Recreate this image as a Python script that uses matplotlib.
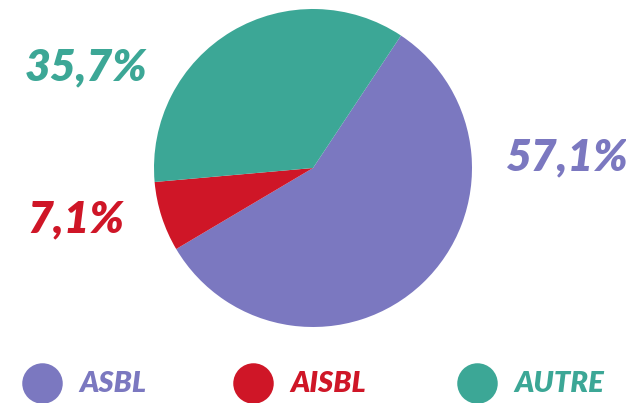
import matplotlib
matplotlib.use("Agg")
import matplotlib.pyplot as plt

categories = ["ASBL", "AISBL", "AUTRE"]
values = [57.1, 7.1, 35.7]
labels = ["57,1%", "7,1%", "35,7%"]
colors = ["#7b78c0", "#cf1627", "#3ca796"]

W, H = 626, 403
fig = plt.figure(figsize=(W / 100, H / 100), dpi=100)
ax = fig.add_axes([0, 0, 1, 1])

cx, cy, r = 313, H - 168, 159
wedges, _ = ax.pie(values, colors=colors, startangle=56.4, counterclock=False,
                   center=(cx, cy), radius=r, frame=True,
                   wedgeprops=dict(linewidth=0))
ax.set_xlim(0, W)
ax.set_ylim(0, H)
ax.set_aspect("equal")
ax.axis("off")

font = dict(family="Lato", fontweight="heavy", fontstyle="italic")
label_pos = [(566, H - 157), (76, H - 219), (86, H - 67)]
for (x, y), t, c in zip(label_pos, labels, colors):
    ax.text(x, y, t, color=c, fontsize=32, ha="center", va="center", **font)

leg_x = [42, 253, 477]
leg_y = H - 383
for x, name, c in zip(leg_x, categories, colors):
    ax.scatter([x], [leg_y], s=850, color=c, linewidths=0, clip_on=False)
    ax.text(x + 37, leg_y - 1, name, color=c, fontsize=21, ha="left", va="center", **font)

fig.savefig("out.png", dpi=100)
